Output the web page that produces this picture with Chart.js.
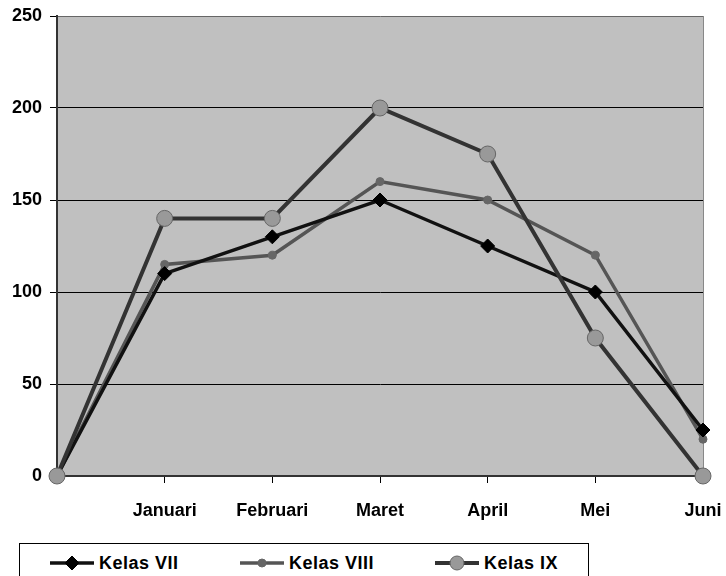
<!DOCTYPE html>
<html><head><meta charset="utf-8">
<script src="https://cdn.jsdelivr.net/npm/chart.js@4/dist/chart.umd.min.js"></script>
<style>
html,body{margin:0;padding:0;background:#fff;}
#wrap{position:relative;width:726px;height:576px;overflow:hidden;font-family:"Liberation Sans",Arial,sans-serif;}
#c{position:absolute;left:0;top:0;}
#legend{position:absolute;left:19px;top:543px;width:570px;height:40px;border:1px solid #000;box-sizing:border-box;background:#fff;}
.item{position:absolute;top:9px;height:20px;display:flex;align-items:center;font-weight:bold;font-size:18px;letter-spacing:0.5px;color:#000;}
.item canvas{margin-right:5px;}
</style></head>
<body><div id="wrap"><canvas id="c" width="726" height="530"></canvas><div id="legend"></div></div>
<script>
const categories = ["", "Januari", "Februari", "Maret", "April", "Mei", "Juni"];
const kelasVII = [0, 110, 130, 150, 125, 100, 25];
const kelasVIII = [0, 115, 120, 160, 150, 120, 20];
const kelasIX = [0, 140, 140, 200, 175, 75, 0];
const seriesNames = ["Kelas VII", "Kelas VIII", "Kelas IX"];
const yTicks = [0, 50, 100, 150, 200, 250];

const styles = [
  {line:'#111111', width:3.5, style:'rectRot', radius:7, fill:'#000000', border:'#000000', order:1, legendR:7},
  {line:'#555555', width:3.5, style:'circle', radius:4, fill:'#666666', border:'#666666', order:2, legendR:4},
  {line:'#333333', width:4, style:'circle', radius:8, fill:'#999999', border:'#666666', order:0, legendR:7}
];
const values = [kelasVII, kelasVIII, kelasIX];
const tickFont = {family:'"Liberation Sans", Arial, sans-serif', size:18, weight:'bold'};

const bgPlugin = {
  id:'bg',
  beforeDraw(chart){
    const a = chart.chartArea, ctx = chart.ctx;
    ctx.save();
    ctx.fillStyle = '#c0c0c0';
    ctx.fillRect(a.left, a.top, a.right - a.left, a.bottom - a.top);
    ctx.strokeStyle = '#888888';
    ctx.lineWidth = 1;
    ctx.beginPath();
    ctx.moveTo(a.right + 0.5, a.top);
    ctx.lineTo(a.right + 0.5, a.bottom);
    ctx.stroke();
    ctx.restore();
  }
};

new Chart(document.getElementById('c'), {
  type:'line',
  data:{
    labels: categories,
    datasets: values.map((v,i)=>({
      label: seriesNames[i],
      data: v,
      borderColor: styles[i].line,
      borderWidth: styles[i].width,
      pointStyle: styles[i].style,
      pointRadius: styles[i].radius,
      pointHoverRadius: styles[i].radius,
      pointBackgroundColor: styles[i].fill,
      pointBorderColor: styles[i].border,
      pointBorderWidth: 1,
      tension: 0,
      order: styles[i].order,
      clip: false
    }))
  },
  options:{
    responsive:false,
    animation:false,
    events:[],
    layout:{padding:{top:16,right:23,left:0,bottom:0}},
    plugins:{legend:{display:false},tooltip:{enabled:false}},
    scales:{
      x:{
        offset:false,
        grid:{drawOnChartArea:false, drawTicks:true, tickLength:7, color:'#000', lineWidth:1},
        border:{color:'#333333', width:2},
        ticks:{color:'#000', padding:17, maxRotation:0, autoSkip:false, font:tickFont},
        afterFit(s){ s.height = 54; s.paddingLeft = 0; s.paddingRight = 0; }
      },
      y:{
        min:0, max:250,
        afterBuildTicks(s){ s.ticks = yTicks.map(v=>({value:v})); },
        grid:{color:(c)=> c.tick && c.tick.value===250 ? '#666666' : '#000000', lineWidth:1, tickLength:7, tickColor:'#000'},
        border:{color:'#333333', width:2},
        ticks:{color:'#000', padding:8, font:tickFont},
        afterFit(s){ s.width = 57; s.paddingTop = 0; s.paddingBottom = 0; }
      }
    }
  },
  plugins:[bgPlugin]
});

// HTML legend
const legend = document.getElementById('legend');
const legendX = [30, 220, 415];
seriesNames.forEach((name,i)=>{
  const d = document.createElement('div');
  d.className='item';
  d.style.left = legendX[i] + 'px';
  const cv = document.createElement('canvas');
  cv.width = 44; cv.height = 20;
  const g = cv.getContext('2d');
  const st = styles[i];
  g.strokeStyle = st.line; g.lineWidth = st.width;
  g.beginPath(); g.moveTo(0,10); g.lineTo(44,10); g.stroke();
  g.fillStyle = st.fill; g.strokeStyle = st.border; g.lineWidth = 1;
  g.beginPath();
  const r = st.legendR;
  if (st.style === 'rectRot') {
    g.moveTo(22,10-r); g.lineTo(22+r,10); g.lineTo(22,10+r); g.lineTo(22-r,10); g.closePath();
  } else {
    g.arc(22,10,r,0,Math.PI*2);
  }
  g.fill(); g.stroke();
  d.appendChild(cv);
  const t = document.createElement('span');
  t.textContent = name;
  d.appendChild(t);
  legend.appendChild(d);
});
</script>
</body></html>
